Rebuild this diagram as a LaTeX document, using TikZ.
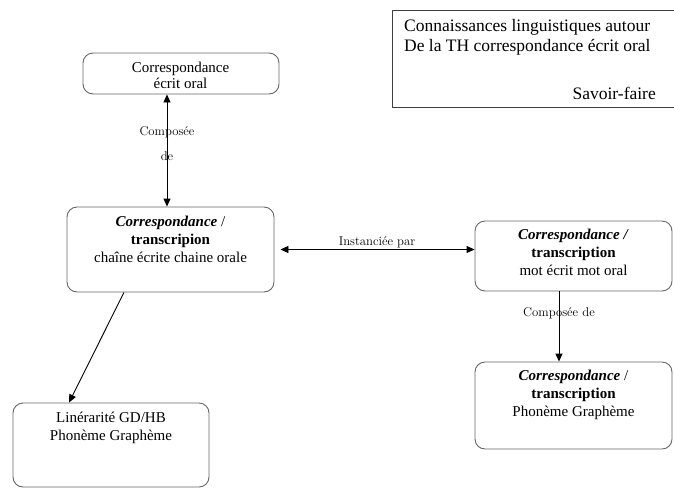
\documentclass[tikz,border=0pt]{standalone}
\usepackage{fontspec}
\setmainfont{Liberation Serif}
\newfontfamily\lmfont{Latin Modern Roman}
\usetikzlibrary{arrows.meta}
\begin{document}
\begin{tikzpicture}[x=1pt,y=-1pt,
  box/.style={draw=black!60, line width=0.9pt, rounded corners=10pt, inner sep=0pt},
  txt/.style={align=center, inner sep=0pt, font=\fontsize{15}{18}\selectfont},
  lbl/.style={inner sep=0pt, font=\lmfont\fontsize{12.7}{15}\selectfont},
  leg/.style={inner sep=0pt, font=\fontsize{17.5}{20}\selectfont},
  arr/.style={line width=0.9pt, black},
  tip/.style={Triangle[length=8pt,width=7pt]}]
\useasboundingbox (0,0) rectangle (674,488);
% legend
\node[draw=black!75, line width=0.9pt, minimum width=285pt, minimum height=97pt, inner sep=0pt] (leg) at (534.5,58.5) {};
\node[leg, anchor=west] (leg1) at (404,27) {Connaissances linguistiques autour};
\node[leg, anchor=west] (leg2) at (404,47) {De la TH correspondance écrit oral};
\node[leg, anchor=east] (leg3) at (656,93) {Savoir-faire};
% boxes
\node[box, minimum width=196pt, minimum height=41pt] (b1) at (181,73.5) {};
\node[txt, font=\fontsize{15}{16}\selectfont] (t1) at (180.5,75) {Correspondance\\écrit oral};
\node[box, minimum width=207pt, minimum height=85pt] (b2) at (170.5,249.5) {};
\node[txt, anchor=north] (t2) at (170.5,216) {\textbf{\textit{Correspondance}} /\\\textbf{transcripion}\\chaîne écrite chaine orale};
\node[box, minimum width=197pt, minimum height=70pt] (b3) at (573.5,256) {};
\node[txt, anchor=north] (t3) at (573.5,229) {\textbf{\textit{Correspondance /}}\\\textbf{transcription}\\mot écrit mot oral};
\node[box, minimum width=197pt, minimum height=87pt] (b4) at (573.5,405.5) {};
\node[txt, anchor=north] (t4) at (573.5,370) {\textbf{\textit{Correspondance}} /\\\textbf{transcription}\\Phonème Graphème};
\node[box, minimum width=196pt, minimum height=84pt] (b5) at (111,445) {};
\node[txt, anchor=north] (t5) at (111,412) {Linérarité GD/HB\\Phonème Graphème};
% connectors
\draw[arr, {Triangle[length=8pt,width=7pt]}-{Triangle[length=8pt,width=7pt]}] ([xshift=-14pt]b1.south) -- ([xshift=-3.5pt]b2.north);
\node[lbl] (l1) at (167,132) {Composée};
\node[lbl] (l2) at (167,156) {de};
\draw[arr, {Triangle[length=8pt,width=7pt]}-{Triangle[length=8pt,width=7pt]}] ([xshift=6pt]b2.east) -- (b3.west |- b2.east);
\node[lbl, anchor=south] (l3) at (377,248) {Instanciée par};
\draw[arr, -{Triangle[length=8pt,width=7pt]}] ([xshift=-14.5pt]b3.south) -- ([xshift=-14.5pt]b4.north);
\node[lbl] (l4) at (559,313) {Composée de};
\draw[arr, -{Triangle[length=8pt,width=7pt]}] ([xshift=-46.5pt]b2.south) -- ([xshift=-42pt]b5.north);
\end{tikzpicture}
\end{document}
